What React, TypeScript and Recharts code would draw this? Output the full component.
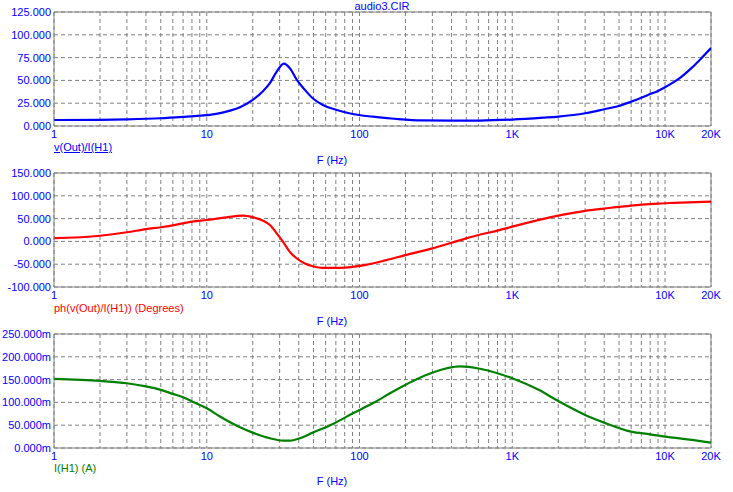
import { LineChart, Line, XAxis, YAxis, CartesianGrid, ReferenceLine } from "recharts"

// frequency axis (Hz): gridlines at every decade step, labels only on a few
const freqTicks = [
  1, 2, 3, 4, 5, 6, 7, 8, 9,
  10, 20, 30, 40, 50, 60, 70, 80, 90,
  100, 200, 300, 400, 500, 600, 700, 800, 900,
  1000, 2000, 3000, 4000, 5000, 6000, 7000, 8000, 9000,
  10000, 20000,
]
const freqLabels: Record<number, string> = { 1: "1", 10: "10", 100: "100", 1000: "1K", 10000: "10K", 20000: "20K" }

// v(Out)/I(H1)
const magFreq = [1, 2, 3, 5, 7, 9, 11.3, 14.2, 16.5, 20, 23.4, 25.9, 28.7, 32, 35, 38.9, 43.9, 49.4, 57.5, 71, 90, 122, 176, 256, 400, 613, 1000, 1600, 2000, 3000, 4000, 5000, 6000, 7000, 8000, 9000, 10000, 12600, 15000, 17000, 20000]
const magValues = [6.6, 6.8, 7.3, 8.5, 10, 11.3, 13, 16.8, 20.5, 28.6, 38.5, 47, 59.7, 68.5, 63.4, 50.6, 39.6, 30.4, 23, 17.6, 13.2, 10.2, 7.7, 6.2, 6.0, 6.0, 7.0, 9.1, 10.3, 14, 18.4, 22, 26.7, 31, 35, 38.5, 42.5, 53, 64, 73, 85.4]
const magTicks = [0, 25, 50, 75, 100, 125]

// ph(v(Out)/I(H1)) in degrees
const phaseFreq = [1, 2, 3, 4, 5, 6, 7, 8, 10, 13, 17.3, 20, 23.4, 25.9, 28.7, 31.6, 35, 38.9, 43.9, 49.4, 57.5, 74, 90, 112, 150, 200, 300, 400, 500, 600, 800, 1000, 2000, 3000, 4000, 6000, 9000, 11400, 20000]
const phaseValues = [7, 12.4, 20, 27, 31, 35.3, 39.7, 43.3, 47, 52, 56.5, 53, 45.5, 36, 17.7, -0.8, -23, -37.5, -48.5, -54.4, -58, -58, -56, -51, -41, -30, -15.4, -3, 6.7, 14, 23.5, 32.3, 56.5, 67, 72, 78.5, 83, 84.5, 87.4]
const phaseTicks = [-100, -50, 0, 50, 100, 150]

// I(H1) in amps
const curFreq = [1, 2, 3, 4, 5, 6, 7, 8, 10, 12.2, 16.5, 20, 25.9, 31.6, 35, 40.7, 49.4, 67, 90.5, 122, 166, 224, 302, 455, 613, 800, 1000, 1500, 2000, 3000, 4000, 6000, 8000, 10000, 14000, 20000]
const curValues = [0.1517, 0.147, 0.142, 0.135, 0.1275, 0.1187, 0.1115, 0.102, 0.087, 0.069, 0.0455, 0.0337, 0.0213, 0.016, 0.016, 0.0213, 0.0337, 0.0528, 0.076, 0.098, 0.124, 0.147, 0.1656, 0.1788, 0.1737, 0.164, 0.153, 0.127, 0.103, 0.0726, 0.0557, 0.0359, 0.03, 0.0249, 0.019, 0.0117]
const curTicks = [0, 0.05, 0.1, 0.15, 0.2, 0.25]

const toRows = (fs: number[], vs: number[]) => fs.map((f, i) => ({ f, v: vs[i] }))

const FONT = "'Liberation Sans', Arial, sans-serif"
const GRID = "#808080"

type PanelProps = {
  top: number
  rows: { f: number; v: number }[]
  color: string
  domain: [number, number]
  yTicks: number[]
  yFormat: (v: number) => string
}

function Panel({ top, rows, color, domain, yTicks, yFormat }: PanelProps) {
  return (
    <div style={{ position: "absolute", left: 0, top }}>
      <LineChart width={733} height={160} data={rows} margin={{ top: 10, right: 22, left: 0, bottom: 0 }}>
        <CartesianGrid stroke={GRID} strokeDasharray="4 3" />
        <XAxis
          dataKey="f"
          type="number"
          scale="log"
          domain={[1, 20000]}
          allowDataOverflow
          ticks={freqTicks}
          interval={0}
          tickFormatter={(v) => freqLabels[v] ?? ""}
          tickLine={false}
          tickSize={0}
          tickMargin={4}
          height={36}
          axisLine={{ stroke: GRID }}
          tick={{ fill: "#0000FF", fontSize: 11, fontFamily: FONT }}
        />
        <YAxis
          type="number"
          domain={domain}
          allowDataOverflow
          ticks={yTicks}
          interval={0}
          tickFormatter={yFormat}
          width={54}
          tickLine={false}
          tickSize={0}
          tickMargin={3}
          axisLine={{ stroke: GRID }}
          tick={{ fill: "#0000FF", fontSize: 11, fontFamily: FONT }}
        />
        <ReferenceLine y={domain[1]} stroke={GRID} />
        <ReferenceLine x={20000} stroke={GRID} />
        <Line
          type="monotone"
          dataKey="v"
          stroke={color}
          strokeWidth={2.2}
          dot={false}
          isAnimationActive={false}
        />
      </LineChart>
    </div>
  )
}

const label = (text: string, x: number, y: number, color: string, center = false, underline = false) => (
  <div
    style={{
      position: "absolute",
      left: x,
      top: y - 7,
      lineHeight: "14px",
      fontSize: 11,
      fontFamily: FONT,
      color,
      whiteSpace: "nowrap",
      transform: center ? "translateX(-50%)" : undefined,
      textDecoration: underline ? "underline" : undefined,
    }}
  >
    {text}
  </div>
)

export default function App() {
  return (
    <div style={{ position: "absolute", left: 0, top: 0, width: 733, height: 492, background: "#fff", overflow: "hidden" }}>
      {label("audio3.CIR", 382, 6, "#0000FF", true)}

      <Panel top={2} rows={toRows(magFreq, magValues)} color="#0000FF" domain={[0, 125]} yTicks={magTicks} yFormat={(v) => v.toFixed(3)} />
      {label("v(Out)/I(H1)", 54, 147, "#0000FF", false, true)}
      {label("F (Hz)", 332, 160, "#0000FF", true)}

      <Panel top={163} rows={toRows(phaseFreq, phaseValues)} color="#FF0000" domain={[-100, 150]} yTicks={phaseTicks} yFormat={(v) => v.toFixed(3)} />
      {label("ph(v(Out)/I(H1)) (Degrees)", 54, 308, "#FF0000")}
      {label("F (Hz)", 332, 321, "#0000FF", true)}

      <Panel top={324} rows={toRows(curFreq, curValues)} color="#008000" domain={[0, 0.25]} yTicks={curTicks} yFormat={(v) => (v * 1000).toFixed(3) + "m"} />
      {label("I(H1) (A)", 54, 468, "#008000")}
      {label("F (Hz)", 332, 481, "#0000FF", true)}
    </div>
  )
}
